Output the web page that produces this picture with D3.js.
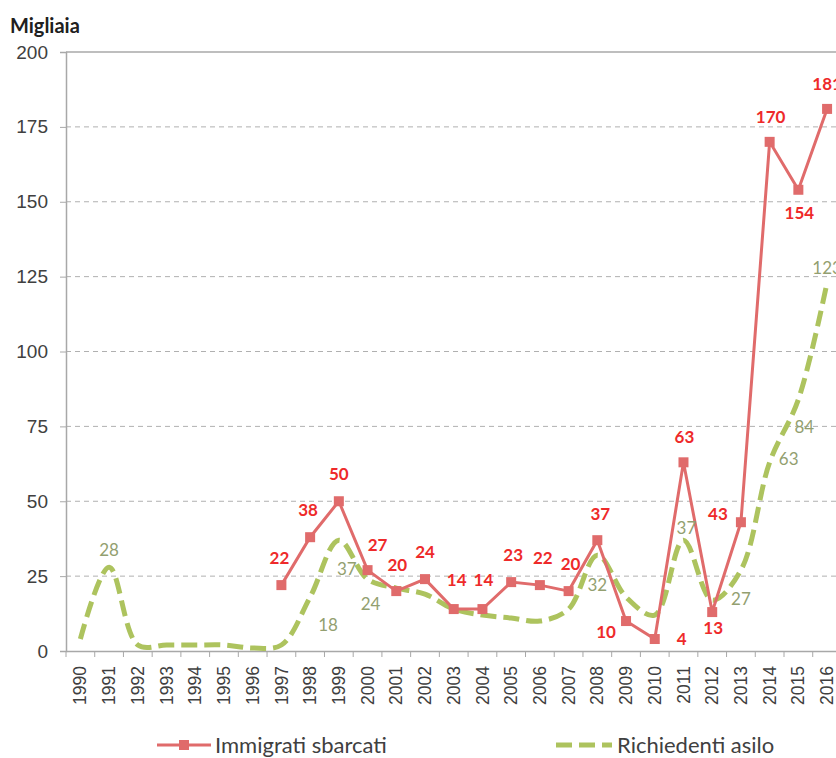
<!DOCTYPE html>
<html>
<head>
<meta charset="utf-8">
<script src="https://cdn.jsdelivr.net/npm/d3@7"></script>
<style>
  body { margin: 0; background: #fff; }
  svg { font-family: Lato, "Liberation Sans", sans-serif; }
</style>
</head>
<body>
<script>
// dati (migliaia)
var anni = ['1990', '1991', '1992', '1993', '1994', '1995', '1996', '1997', '1998', '1999',
            '2000', '2001', '2002', '2003', '2004', '2005', '2006', '2007', '2008', '2009',
            '2010', '2011', '2012', '2013', '2014', '2015', '2016'];
var immigrati = [null, null, null, null, null, null, null, 22, 38, 50,
                 27, 20, 24, 14, 14, 23, 22, 20, 37, 10,
                 4, 63, 13, 43, 170, 154, 181];
var asilo = [4, 28, 2, 2, 2, 2, 1, 2, 18, 37,
             24, 21, 19, 14, 12, 11, 10, 14, 32, 18,
             12, 37, 17, 27, 63, 84, 123];
// anni con etichetta sulla serie richiedenti asilo
var asiloEtichette = ['1991', '1998', '1999', '2000', '2008', '2011', '2013', '2014', '2015', '2016'];
var yTicks = [0, 25, 50, 75, 100, 125, 150, 175, 200];

// spostamenti delle etichette rispetto al punto (layout)
var redOff = {
  '1997': [-2, -27], '1998': [-2, -27], '1999': [0, -27], '2000': [10, -25], '2001': [1, -26],
  '2002': [0, -27], '2003': [3, -29], '2004': [1, -29], '2005': [2, -27], '2006': [3, -27],
  '2007': [2, -27], '2008': [3, -26], '2009': [-20, 11], '2010': [27, 0], '2011': [1, -25],
  '2012': [1, 16], '2013': [-23, -8], '2014': [1, -25], '2015': [1, 23], '2016': [0, -25]
};
var greenOff = {
  '1991': [0, -17], '1998': [18, 28], '1999': [8, 29], '2000': [3, 25], '2008': [0, 30],
  '2011': [3, -12], '2013': [0, 29], '2014': [19, -3], '2015': [6, 28], '2016': [0, -15]
};

var width = 836;
var height = 758;
var plotLeft = 66, plotTop = 52, plotBottom = 651;
var step = 28.72;

var svg = d3.select('body')
  .append('svg')
  .attr('width', width)
  .attr('height', height);

var x = d3.scaleBand()
  .domain(anni)
  .range([plotLeft, plotLeft + step * anni.length]);

var y = d3.scaleLinear()
  .domain([0, 200])
  .range([plotBottom, plotTop]);

function cx(d) { return x(d) + x.bandwidth() / 2; }

// griglia
svg.append('g')
  .selectAll('line')
  .data(yTicks.filter(function(t){ return t > 0; }))
  .enter()
  .append('line')
  .attr('x1', plotLeft).attr('x2', width)
  .attr('y1', function(d){ return y(d); })
  .attr('y2', function(d){ return y(d); })
  .attr('stroke', function(d){ return d === 200 ? '#a8a8a8' : '#b0b0b0'; })
  .attr('stroke-width', function(d){ return d === 200 ? 1.5 : 1; })
  .attr('stroke-dasharray', function(d){ return d === 200 ? null : '5,4'; });

// asse y
var yAxis = svg.append('g')
  .attr('transform', 'translate(' + plotLeft + ',0)')
  .call(d3.axisLeft(y).tickValues(yTicks).tickSize(6).tickPadding(12));
yAxis.select('.domain').attr('stroke', '#a8a8a8').attr('stroke-width', 1.5);
yAxis.selectAll('.tick line').attr('stroke', '#a8a8a8');
yAxis.selectAll('text').attr('fill', '#404040').style('font-size', '19px');

// asse x
var xAxis = svg.append('g')
  .attr('transform', 'translate(0,' + plotBottom + ')')
  .call(d3.axisBottom(x).tickSize(0).tickSizeOuter(0));
xAxis.select('.domain').attr('stroke', '#a8a8a8').attr('stroke-width', 1.5);
xAxis.selectAll('.tick text')
  .attr('fill', '#404040')
  .style('font-size', '17.5px')
  .attr('text-anchor', 'end')
  .attr('transform', 'rotate(-90)')
  .attr('x', -15)
  .attr('y', 0)
  .attr('dy', '0.35em');
xAxis.selectAll('.sep')
  .data(anni)
  .enter()
  .append('line')
  .attr('class', 'sep')
  .attr('x1', function(d){ return x(d); })
  .attr('x2', function(d){ return x(d); })
  .attr('y1', 0).attr('y2', 6)
  .attr('stroke', '#a8a8a8');

// serie richiedenti asilo (tratteggiata, smussata)
var greenLine = d3.line()
  .x(function(d, i){ return cx(anni[i]); })
  .y(function(d){ return y(d); })
  .curve(d3.curveCatmullRom.alpha(0.5));

svg.append('path')
  .attr('d', greenLine(asilo))
  .attr('fill', 'none')
  .attr('stroke', '#adc35e')
  .attr('stroke-width', 5)
  .attr('stroke-dasharray', '16,7');

// serie immigrati sbarcati
var redLine = d3.line()
  .defined(function(d){ return d !== null; })
  .x(function(d, i){ return cx(anni[i]); })
  .y(function(d){ return y(d); });

svg.append('path')
  .attr('d', redLine(immigrati))
  .attr('fill', 'none')
  .attr('stroke', '#e06b6b')
  .attr('stroke-width', 3);

var redPts = anni.map(function(a, i){ return [a, immigrati[i]]; })
  .filter(function(d){ return d[1] !== null; });

svg.append('g')
  .selectAll('rect')
  .data(redPts)
  .enter()
  .append('rect')
  .attr('x', function(d){ return cx(d[0]) - 5; })
  .attr('y', function(d){ return y(d[1]) - 5; })
  .attr('width', 10)
  .attr('height', 10)
  .attr('fill', '#e06b6b');

// etichette
svg.append('g')
  .selectAll('text')
  .data(anni.filter(function(a){ return asiloEtichette.indexOf(a) >= 0; }))
  .enter()
  .append('text')
  .attr('x', function(d){ return cx(d) + greenOff[d][0]; })
  .attr('y', function(d){ return y(asilo[anni.indexOf(d)]) + greenOff[d][1]; })
  .attr('dy', '0.35em')
  .attr('text-anchor', 'middle')
  .attr('fill', '#939f70')
  .style('font-size', '17px')
  .text(function(d){ return asilo[anni.indexOf(d)]; });

svg.append('g')
  .selectAll('text')
  .data(redPts)
  .enter()
  .append('text')
  .attr('x', function(d){ return cx(d[0]) + redOff[d[0]][0]; })
  .attr('y', function(d){ return y(d[1]) + redOff[d[0]][1]; })
  .attr('dy', '0.35em')
  .attr('text-anchor', 'middle')
  .attr('fill', '#ee2a2a')
  .style('font-size', '17px')
  .style('font-weight', 'bold')
  .text(function(d){ return d[1]; });

// titolo asse
svg.append('text')
  .attr('x', 10)
  .attr('y', 33)
  .attr('fill', '#202020')
  .style('font-size', '20px')
  .style('font-weight', 'bold')
  .text('Migliaia');

// legenda
var leg = svg.append('g');
leg.append('line')
  .attr('x1', 157).attr('x2', 211).attr('y1', 745).attr('y2', 745)
  .attr('stroke', '#e06b6b').attr('stroke-width', 3);
leg.append('rect')
  .attr('x', 179).attr('y', 740).attr('width', 10).attr('height', 10)
  .attr('fill', '#e06b6b');
leg.append('text')
  .attr('x', 215).attr('y', 745).attr('dy', '0.35em')
  .attr('fill', '#404040').style('font-size', '22px')
  .text('Immigrati sbarcati');
leg.append('line')
  .attr('x1', 556).attr('x2', 612).attr('y1', 745).attr('y2', 745)
  .attr('stroke', '#adc35e').attr('stroke-width', 5)
  .attr('stroke-dasharray', '16,7');
leg.append('text')
  .attr('x', 617).attr('y', 745).attr('dy', '0.35em')
  .attr('fill', '#404040').style('font-size', '22px')
  .text('Richiedenti asilo');
</script>
</body>
</html>
